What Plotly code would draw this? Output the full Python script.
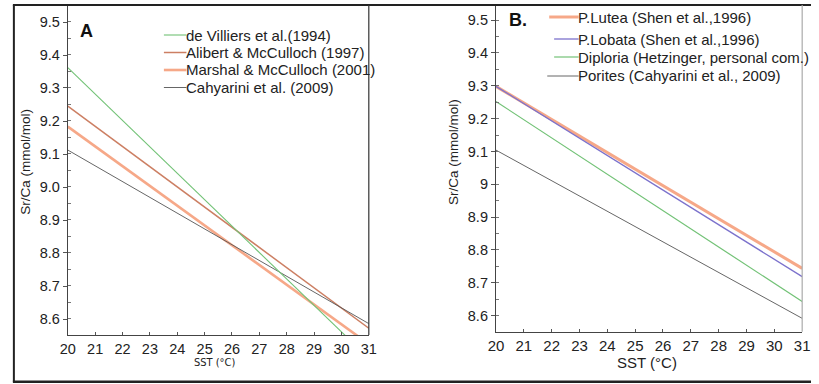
import plotly.graph_objects as go

W, H = 819, 384

# ---------------- data ----------------
sst = [20, 31]

# Panel A calibrations (Sr/Ca, mmol/mol) at SST 20 and 31 °C
a_names = ["de Villiers et al.(1994)", "Alibert & McCulloch (1997)",
           "Marshal & McCulloch (2001)", "Cahyarini et al. (2009)"]
de_villiers = [9.362, 8.481]
alibert = [9.245, 8.572]
marshal = [9.183, 8.524]
cahyarini = [9.112, 8.586]

# Panel B calibrations
b_names = ["P.Lutea (Shen et al.,1996)", "P.Lobata (Shen et al.,1996)",
           "Diploria (Hetzinger, personal com.)", "Porites (Cahyarini et al., 2009)"]
p_lutea = [9.298, 8.744]
p_lobata = [9.298, 8.719]
diploria = [9.252, 8.643]
porites = [9.104, 8.592]

x_ticks = list(range(20, 32))
a_yticks = [8.6, 8.7, 8.8, 8.9, 9.0, 9.1, 9.2, 9.3, 9.4, 9.5]
b_yticks = a_yticks

# ---------------- styles ----------------
GREEN = "#72c276"
BROWN = "#cc7f63"
SALMON = "#f6a888"
GRAY = "#555555"
PURPLE = "#7c72cc"
TXT = "#222222"
FONT = "Liberation Sans, Arial, sans-serif"
NARROW = "Liberation Sans Narrow, DejaVu Sans Condensed, Liberation Sans, sans-serif"


def px(x):
    return x / W


def py(y):
    return 1 - y / H


fig = go.Figure()

a_series = [(marshal, SALMON, 2.6, a_names[2]), (alibert, BROWN, 1.5, a_names[1]),
            (cahyarini, GRAY, 0.9, a_names[3]), (de_villiers, GREEN, 1.1, a_names[0])]
for ys, c, w, n in a_series:
    fig.add_trace(go.Scatter(x=sst, y=ys, mode="lines", name=n, showlegend=False,
                             line=dict(color=c, width=w), xaxis="x", yaxis="y",
                             hoverinfo="skip"))

b_series = [(p_lutea, SALMON, 3.0, b_names[0]), (p_lobata, PURPLE, 1.3, b_names[1]),
            (diploria, GREEN, 1.2, b_names[2]), (porites, GRAY, 0.9, b_names[3])]
for ys, c, w, n in b_series:
    fig.add_trace(go.Scatter(x=sst, y=ys, mode="lines", name=n, showlegend=False,
                             line=dict(color=c, width=w), xaxis="x2", yaxis="y2",
                             hoverinfo="skip"))

common_x = dict(range=[20, 31], tickmode="array", tickvals=x_ticks,
                ticktext=[str(v) for v in x_ticks], ticks="inside", ticklen=3,
                tickcolor="#555", showline=True, linecolor="#444", linewidth=1.2,
                showgrid=False, zeroline=False, fixedrange=True)
common_y = dict(tickmode="array", ticks="outside", ticklen=4, tickcolor="#555",
                showline=True, linecolor="#444", linewidth=1.2, showgrid=False,
                zeroline=False, fixedrange=True,
                minor=dict(ticks="inside", ticklen=3, dtick=0.05, tick0=8.55,
                           tickcolor="#777", showgrid=False))

fig.update_layout(
    width=W, height=H, margin=dict(l=0, r=0, t=0, b=0),
    paper_bgcolor="white", plot_bgcolor="white",
    font=dict(family=FONT, color=TXT),
    xaxis=dict(common_x, domain=[px(61), px(368)], anchor="y",
               tickfont=dict(size=14.5, color=TXT)),
    yaxis=dict(common_y, domain=[py(335), py(5)], anchor="x",
               range=[8.5515, 9.5515], tickvals=a_yticks,
               ticktext=[f"{v:.1f}" for v in a_yticks],
               tickfont=dict(size=14.5, color=TXT)),
    xaxis2=dict(common_x, domain=[px(497.7), px(810)], anchor="y2",
                tickfont=dict(size=15, color=TXT)),
    yaxis2=dict(common_y, domain=[py(331.7), py(5)], anchor="x2",
                range=[8.5513, 9.5457], tickvals=b_yticks,
                ticktext=[("9" if abs(v - 9.0) < 1e-9 else f"{v:.1f}") for v in b_yticks],
                tickfont=dict(size=14.5, color=TXT)),
)

shapes = []
# outer frame
shapes.append(dict(type="line", xref="paper", yref="paper", x0=px(5), x1=1.0,
                   y0=py(5), y1=py(5), line=dict(color="#222", width=2.2)))
shapes.append(dict(type="line", xref="paper", yref="paper", x0=px(5), x1=1.0,
                   y0=py(381.8), y1=py(381.8), line=dict(color="#222", width=2.4)))
shapes.append(dict(type="line", xref="paper", yref="paper", x0=px(6), x1=px(6),
                   y0=py(5), y1=py(382), line=dict(color="#222", width=2)))
# right borders of plot areas
shapes.append(dict(type="line", xref="x domain", yref="y domain", x0=1, x1=1,
                   y0=0, y1=1, line=dict(color="#333", width=1.2)))
shapes.append(dict(type="line", xref="x2 domain", yref="y2 domain", x0=1, x1=1,
                   y0=0, y1=1, line=dict(color="#aaaaaa", width=1.2)))

annotations = []

# legend A
a_leg = [(a_names[0], GREEN, 1.1, 35), (a_names[1], BROWN, 1.5, 52.5),
         (a_names[2], SALMON, 2.6, 70), (a_names[3], GRAY, 0.9, 87.5)]
for name, c, w, yc in a_leg:
    shapes.append(dict(type="line", xref="paper", yref="paper", x0=px(159), x1=px(182),
                       y0=py(yc), y1=py(yc), line=dict(color=c, width=w)))
    annotations.append(dict(text=name, xref="paper", yref="paper", x=px(179), y=py(yc),
                            xanchor="left", yanchor="middle", showarrow=False,
                            font=dict(size=15, color=TXT, family=FONT)))

# legend B
b_leg = [(b_names[0], SALMON, 3.0, 17, 552), (b_names[1], PURPLE, 1.3, 39, 557),
         (b_names[2], GREEN, 1.2, 57, 557), (b_names[3], GRAY, 0.9, 76, 550)]
for name, c, w, yc, x0 in b_leg:
    shapes.append(dict(type="line", xref="paper", yref="paper", x0=px(x0), x1=px(582),
                       y0=py(yc), y1=py(yc), line=dict(color=c, width=w)))
    annotations.append(dict(text=name, xref="paper", yref="paper", x=px(579), y=py(yc),
                            xanchor="left", yanchor="middle", showarrow=False,
                            font=dict(size=15, color=TXT, family=FONT)))

# panel labels
annotations.append(dict(text="<b>A</b>", xref="paper", yref="paper", x=px(80.5), y=py(31),
                        xanchor="center", yanchor="middle", showarrow=False,
                        font=dict(size=18, color="#111", family=FONT)))
annotations.append(dict(text="<b>B.</b>", xref="paper", yref="paper", x=px(509), y=py(20),
                        xanchor="left", yanchor="middle", showarrow=False,
                        font=dict(size=18, color="#111", family=FONT)))

# axis titles
annotations.append(dict(text="Sr/Ca (mmol/mol)", xref="paper", yref="paper", x=px(17), y=py(162),
                        xanchor="center", yanchor="middle", textangle=-90, showarrow=False,
                        font=dict(size=13.5, color=TXT, family=FONT)))
annotations.append(dict(text="Sr/Ca (mmol/mol)", xref="paper", yref="paper", x=px(455), y=py(152),
                        xanchor="center", yanchor="middle", textangle=-90, showarrow=False,
                        font=dict(size=13.5, color=TXT, family=FONT)))
annotations.append(dict(text="SST (°C)", xref="paper", yref="paper", x=px(211), y=py(362),
                        xanchor="center", yanchor="middle", showarrow=False,
                        font=dict(size=11, color=TXT, family=NARROW)))
annotations.append(dict(text="SST (°C)", xref="paper", yref="paper", x=px(652), y=py(362),
                        xanchor="center", yanchor="middle", showarrow=False,
                        font=dict(size=15, color=TXT, family=FONT)))

fig.update_layout(shapes=shapes, annotations=annotations)

fig.write_html("out.html")
